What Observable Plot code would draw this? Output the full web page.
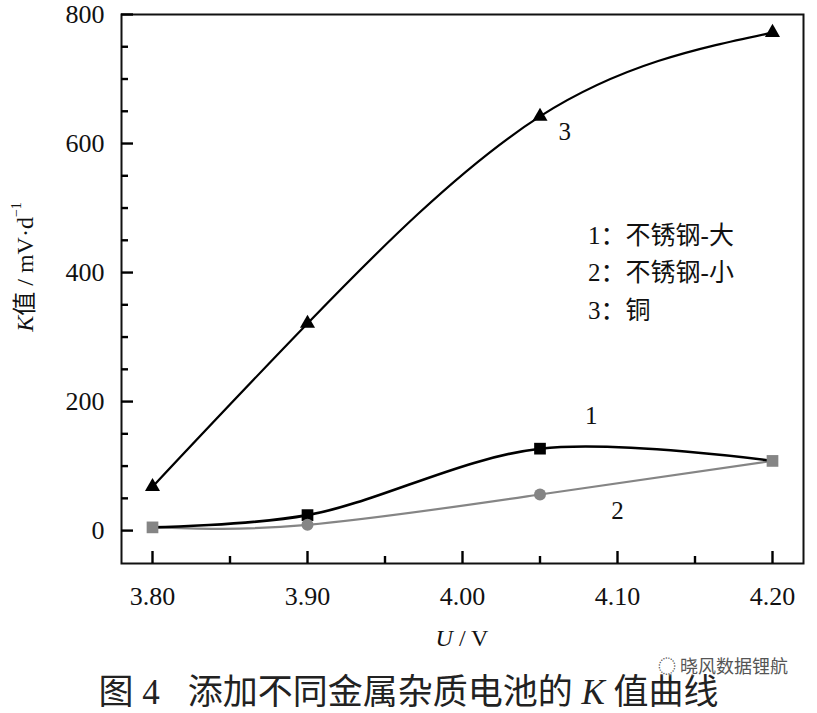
<!DOCTYPE html>
<html><head><meta charset="utf-8">
<script src="https://cdn.jsdelivr.net/npm/d3@7"></script>
<script src="https://cdn.jsdelivr.net/npm/@observablehq/plot@0.6"></script>
<style>
body{margin:0;background:#fff;}
#wrap{width:817px;}
#cap{position:relative;height:48px;width:817px;font-family:'Liberation Serif','Noto Sans CJK SC',serif;font-size:35px;color:#222;}
#cap .t{position:absolute;left:0;width:817px;text-align:center;top:8px;line-height:40px;white-space:nowrap;}
#cap .t .n{display:inline-block;margin-right:28px;}
#cap .w{position:absolute;left:658px;top:-12px;font-family:'Noto Sans CJK SC',sans-serif;font-size:18px;line-height:24px;color:#555;text-shadow:0 0 2px #fff,0 0 3px #fff,0 0 3px #fff;white-space:nowrap;}
</style></head><body><div id="wrap"></div>
<div id="cap"><div class="t"><span class="n">图 4</span>添加不同金属杂质电池的 <i>K</i> 值曲线</div><div class="w">◌ 晓风数据锂航</div></div>
<script>
const voltages = [3.80, 3.90, 4.05, 4.20];
const seriesNames = ["不锈钢-大", "不锈钢-小", "铜"];
const kLarge = [5, 24, 127, 108];   // 1: 不锈钢-大
const kSmall = [5, 9, 56, 108];     // 2: 不锈钢-小
const kCopper = [68, 321, 642, 772]; // 3: 铜
const xTicksMajor = [3.80, 3.90, 4.00, 4.10, 4.20];
const xTicksMinor = [3.85, 3.95, 4.05, 4.15];
const yTicksMajor = [0, 200, 400, 600, 800];
const yTicksMinor = [50, 100, 150, 250, 300, 350, 450, 500, 550, 650, 700, 750];
const curveLabels = [{x: 4.066, y: 618, t: "3"}, {x: 4.083, y: 178, t: "1"}, {x: 4.10, y: 31, t: "2"}];
const legendLines = [{x: 4.081, y: 457, t: "1：不锈钢-大"}, {x: 4.081, y: 399, t: "2：不锈钢-小"}, {x: 4.081, y: 340, t: "3：铜"}];

const s1 = voltages.map((u, i) => ({u, k: kLarge[i]}));
const s2 = voltages.map((u, i) => ({u, k: kSmall[i]}));
const s3 = voltages.map((u, i) => ({u, k: kCopper[i]}));
const coincide = voltages.map((u, i) => kLarge[i] === kSmall[i]);
const s1only = s1.filter((d, i) => !coincide[i]);
const s2only = s2.filter((d, i) => !coincide[i]);
const shared = s2.filter((d, i) => coincide[i]);

const FONT = "'Liberation Serif','Noto Sans CJK SC',serif";
const GREY = "#858585";
const W = 817, H = 665, ML = 121, MR = 14, MT = 14, MB = 102;
const innerW = W - ML - MR, innerH = H - MT - MB;
const xDomain = [3.78, 4.22], yDomain = [-51, 800];
const MAJ = 12, MIN = 7;
// tick lengths converted from pixels to data units of each scale
const yLen = px => (yDomain[1] - yDomain[0]) * px / innerH;
const xLen = px => (xDomain[1] - xDomain[0]) * px / innerW;
const tk = {stroke: "#000", strokeWidth: 2.4};

const chart = Plot.plot({
  width: W,
  height: H,
  marginLeft: ML,
  marginRight: MR,
  marginTop: MT,
  marginBottom: MB,
  style: {fontFamily: FONT, background: "#fff", color: "#111"},
  x: {domain: xDomain},
  y: {domain: yDomain},
  marks: [
    Plot.axisX({ticks: xTicksMajor, tickSize: 0, tickPadding: 23, fontSize: 26, tickFormat: d3.format(".2f"), label: null, fill: "#111"}),
    Plot.axisY({ticks: yTicksMajor, tickSize: 0, tickPadding: 17, fontSize: 26, tickFormat: d => String(d), label: null, fill: "#111"}),
    Plot.line(s2, {x: "u", y: "k", curve: "natural", stroke: GREY, strokeWidth: 2.2}),
    Plot.line(s1, {x: "u", y: "k", curve: "catmull-rom", stroke: "#000", strokeWidth: 2.6}),
    Plot.line(s3, {x: "u", y: "k", curve: "natural", stroke: "#000", strokeWidth: 2.2}),
    Plot.dot(s1only, {x: "u", y: "k", symbol: "square", r: 6.6, fill: "#000"}),
    Plot.dot(s2only, {x: "u", y: "k", symbol: "circle", r: 6, fill: GREY}),
    Plot.dot(shared, {x: "u", y: "k", symbol: "square", r: 6.6, fill: GREY}),
    Plot.dot(s3, {x: "u", y: "k", symbol: "triangle", r: 5.6, fill: "#000"}),
    Plot.text(curveLabels, {x: "x", y: "y", text: "t", fontSize: 25, fill: "#111", fontFamily: FONT}),
    Plot.text(legendLines, {x: "x", y: "y", text: "t", fontSize: 25, textAnchor: "start", fill: "#111", fontFamily: FONT}),
    Plot.frame({stroke: "#111", strokeWidth: 2}),
    Plot.ruleX(xTicksMajor, {x: d => d, y1: yDomain[0], y2: yDomain[0] + yLen(MAJ), ...tk}),
    Plot.ruleX(xTicksMinor, {x: d => d, y1: yDomain[0], y2: yDomain[0] + yLen(MIN), ...tk}),
    Plot.ruleY(yTicksMajor, {y: d => d, x1: xDomain[0], x2: xDomain[0] + xLen(MAJ), ...tk}),
    Plot.ruleY(yTicksMinor, {y: d => d, x1: xDomain[0], x2: xDomain[0] + xLen(MIN), ...tk})
  ]
});
document.getElementById("wrap").appendChild(chart);

const svg = d3.select(chart);
const yl = svg.append("text")
  .attr("transform", "translate(25,267) rotate(-90)")
  .attr("text-anchor", "middle").attr("dominant-baseline", "central")
  .attr("font-size", 24).attr("fill", "#111").attr("font-family", FONT);
yl.append("tspan").attr("font-style", "italic").text("K");
yl.append("tspan").text("值 / mV·d");
yl.append("tspan").attr("font-size", 14).attr("dy", -9).text("−1");

const xl = svg.append("text")
  .attr("x", 462).attr("y", 638)
  .attr("text-anchor", "middle").attr("dominant-baseline", "central")
  .attr("font-size", 24).attr("fill", "#111").attr("font-family", FONT);
xl.append("tspan").attr("font-style", "italic").text("U");
xl.append("tspan").text(" / V");
</script></body></html>
